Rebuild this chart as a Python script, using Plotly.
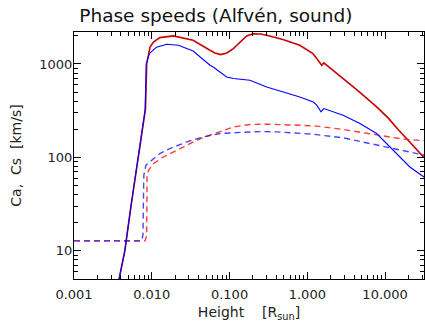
import plotly.graph_objects as go

# ---- data ----
ca1_x = [0.0038, 0.0045, 0.0054, 0.0067, 0.0083, 0.0086, 0.0095, 0.0105, 0.0127, 0.0189,
         0.034, 0.056, 0.065, 0.077, 0.092, 0.112, 0.136, 0.166, 0.2, 0.25, 0.30, 0.485,
         0.80, 1.18, 1.32, 1.53, 1.63, 2.89, 4.5, 7.78, 11.0, 15.0, 22.0, 31.6]
ca1_y = [5, 10, 30, 100, 330, 1000, 1520, 1717, 1914, 1995,
         1791, 1400, 1310, 1259, 1310, 1460, 1717, 1990, 2100, 2090, 2027, 1824,
         1585, 1291, 1142, 969, 1025, 698, 514, 347, 263, 195, 139, 100]

ca2_x = [0.0038, 0.0045, 0.0054, 0.0067, 0.0082, 0.0085, 0.0093, 0.0115, 0.0156, 0.022,
         0.034, 0.056, 0.0617, 0.0917, 0.112, 0.183, 0.30, 0.49, 0.80, 1.19, 1.32, 1.50,
         1.63, 2.89, 4.74, 7.78, 14.1, 20.8, 31.6]
ca2_y = [5, 10, 30, 100, 320, 1000, 1291, 1514, 1625, 1585,
         1377, 968, 929, 726, 698, 670, 568, 502, 443, 392, 362, 307,
         333, 282, 231, 180, 110, 79, 61.8]

cs1_x = [0.001, 0.0082, 0.0086, 0.0086, 0.0087, 0.0091, 0.0105, 0.0141, 0.0209, 0.0378,
         0.056, 0.083, 0.112, 0.183, 0.30, 0.80, 1.32, 2.89, 7.78, 17.1, 31.6]
cs1_y = [12.8, 12.8, 14.7, 34.8, 64.6, 73, 86, 101, 119, 153,
         173, 195, 212, 225, 227, 221, 216, 199, 173, 157, 151]

cs2_x = [0.001, 0.0074, 0.0077, 0.0078, 0.0079, 0.0084, 0.0100, 0.0127, 0.0171, 0.0281,
         0.0459, 0.0753, 0.150, 0.246, 0.403, 0.659, 1.19, 2.89, 7.78, 17.1, 31.6]
cs2_y = [12.8, 12.8, 14.7, 34.8, 64.6, 82.6, 93.3, 110, 124.5, 146.5,
         165.7, 180, 186, 189, 187.5, 183, 177, 162, 135, 119, 106]

x_ticks = [0.001, 0.01, 0.1, 1, 10]
x_ticktext = ["0.001", "0.010", "0.100", "1.000", "10.000"]
y_ticks = [10, 100, 1000]
y_ticktext = ["10", "100", "1000"]
x_minor = [m * 10.0 ** e for e in range(-3, 2) for m in range(2, 10)]
y_minor = [m * 10.0 ** e for e in range(0, 4) for m in range(2, 10)]

FONT = "DejaVu Sans"

fig = go.Figure()
fig.add_trace(go.Scatter(x=ca1_x, y=ca1_y, mode="lines",
                         line=dict(color="#cc0000", width=1.6)))
fig.add_trace(go.Scatter(x=cs1_x, y=cs1_y, mode="lines", opacity=0.85,
                         line=dict(color="#ff1a1a", width=1.4, dash="6px,4px")))
fig.add_trace(go.Scatter(x=ca2_x, y=ca2_y, mode="lines",
                         line=dict(color="#0000ff", width=1.1)))
fig.add_trace(go.Scatter(x=cs2_x, y=cs2_y, mode="lines", opacity=0.72,
                         line=dict(color="#0000ff", width=1.4, dash="6px,4px")))

axis_common = dict(
    type="log", showline=True, linecolor="black", linewidth=1, mirror="allticks",
    ticks="inside", ticklen=7, tickwidth=1, tickcolor="black",
    showgrid=False, zeroline=False,
    tickfont=dict(family=FONT, size=13, color="#222222"),
)

fig.update_xaxes(
    **axis_common, range=[-3, 1.5], tickmode="array",
    tickvals=x_ticks, ticktext=x_ticktext, ticklabelstandoff=3,
    minor=dict(tickmode="array", tickvals=x_minor, ticks="inside",
               ticklen=4, tickcolor="black", showgrid=False),
    title=dict(text="Height\u00a0\u00a0\u00a0\u00a0[R<sub>sun</sub>]",
               font=dict(family=FONT, size=14, color="#222222"), standoff=6),
)
fig.update_yaxes(
    **axis_common, range=[0.699, 3.342], tickmode="array",
    tickvals=y_ticks, ticktext=y_ticktext, ticklabelstandoff=-2,
    minor=dict(tickmode="array", tickvals=y_minor, ticks="inside",
               ticklen=4, tickcolor="black", showgrid=False),
    title=dict(text="Ca,\u00a0\u00a0Cs\u00a0\u00a0[km/s]",
               font=dict(family=FONT, size=14, color="#222222"), standoff=14),
)

fig.update_layout(
    width=425, height=323,
    margin=dict(l=74, r=1, t=32, b=44, autoexpand=False),
    paper_bgcolor="white", plot_bgcolor="white",
    showlegend=False,
    title=dict(text="Phase speeds (Alfvén, sound)", x=0.508, xref="container",
               xanchor="center", y=0.953, yref="container", yanchor="middle",
               font=dict(family=FONT, size=18.5, color="#111111")),
)

fig.write_html("out.html", config={"displayModeBar": False},
               post_script="document.body.style.margin='0';document.body.style.padding='0';")
